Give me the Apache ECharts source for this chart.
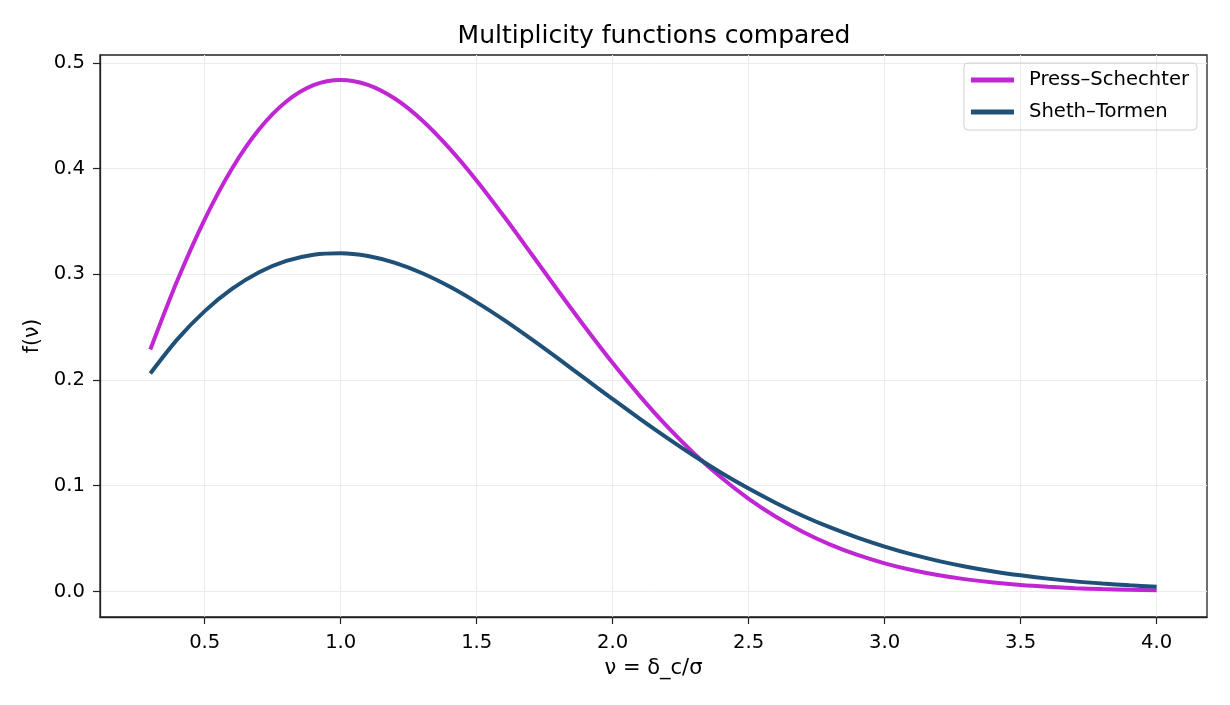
<!DOCTYPE html>
<html>
<head>
<meta charset="utf-8">
<script src="https://cdn.jsdelivr.net/npm/echarts@6/dist/echarts.min.js"></script>
<style>
  html, body { margin: 0; padding: 0; background: #fff; }
  #chart { width: 1230px; height: 705px; }
</style>
</head>
<body>
<div id="chart"></div>
<script>
// values
var nu = [0.3, 0.4, 0.5, 0.6, 0.7, 0.8, 0.9, 1.0, 1.1, 1.2, 1.3, 1.4, 1.5, 1.6, 1.7, 1.8, 1.9,
  2.0, 2.1, 2.2, 2.3, 2.4, 2.5, 2.6, 2.7, 2.8, 2.9, 3.0, 3.1, 3.2, 3.3, 3.4, 3.5, 3.6, 3.7, 3.8, 3.9, 4.0]
var pressSchechter = [0.2288, 0.2946, 0.3521, 0.3999, 0.4372, 0.4635, 0.4790, 0.4839, 0.4793, 0.4661,
  0.4456, 0.4192, 0.3886, 0.3549, 0.3197, 0.2842, 0.2494, 0.2160, 0.1848, 0.1561, 0.1303, 0.1075,
  0.0876, 0.0706, 0.0563, 0.0443, 0.0345, 0.0266, 0.0203, 0.0153, 0.0114, 0.0084, 0.0061, 0.0044,
  0.0031, 0.0022, 0.0015, 0.0011]
var shethTormen = [0.2062, 0.2387, 0.2652, 0.2862, 0.3020, 0.3127, 0.3186, 0.3200, 0.3173, 0.3108,
  0.3010, 0.2884, 0.2735, 0.2569, 0.2389, 0.2202, 0.2010, 0.1820, 0.1633, 0.1453, 0.1281, 0.1121,
  0.0973, 0.0837, 0.0714, 0.0605, 0.0509, 0.0424, 0.0350, 0.0287, 0.0234, 0.0189, 0.0152, 0.0121,
  0.0095, 0.0075, 0.0058, 0.0045]
var xTicks = [0.5, 1.0, 1.5, 2.0, 2.5, 3.0, 3.5, 4.0]
var yTicks = [0.0, 0.1, 0.2, 0.3, 0.4, 0.5]

var font = 'DejaVu Sans'

function pairs(xs, ys) {
  return xs.map(function (x, i) { return [x, ys[i]] })
}

var chart = echarts.init(document.getElementById('chart'), null, { renderer: 'canvas' })

chart.setOption({
  animation: false,
  backgroundColor: '#fff',
  textStyle: { fontFamily: font },
  title: {
    text: 'Multiplicity functions compared',
    left: 649,
    textAlign: 'center',
    top: 19,
    textStyle: { fontFamily: font, fontSize: 25, fontWeight: 'normal', color: '#000' }
  },
  legend: {
    orient: 'vertical',
    right: 33,
    top: 63,
    padding: [7, 8, 8, 7],
    itemGap: 12,
    itemWidth: 43,
    itemHeight: 5,
    borderColor: '#d0d0d0',
    borderWidth: 1,
    borderRadius: 4,
    textStyle: { fontFamily: font, fontSize: 19.6, color: '#000', padding: [0, 0, 0, 10] },
    data: [
      { name: 'Press–Schechter', icon: 'rect' },
      { name: 'Sheth–Tormen', icon: 'rect' }
    ]
  },
  grid: {
    left: 100, right: 23, top: 55, bottom: 88,
    show: true, borderColor: '#222', borderWidth: 1.3
  },
  xAxis: {
    type: 'value',
    min: 0.115,
    max: 4.185,
    name: 'ν = δ_c/σ',
    nameLocation: 'middle',
    nameGap: 38,
    nameTextStyle: { fontFamily: font, fontSize: 21, color: '#000' },
    axisLine: { show: true, onZero: false, lineStyle: { color: '#222', width: 1.3 } },
    axisTick: { show: true, customValues: xTicks, length: 7, lineStyle: { color: '#222', width: 1.2 } },
    axisLabel: {
      customValues: xTicks, fontFamily: font, fontSize: 19.6, color: '#000', margin: 16,
      formatter: function (v) { return v.toFixed(1) }
    },
    splitLine: { show: true, lineStyle: { color: '#ebebeb', width: 1 } }
  },
  yAxis: {
    type: 'value',
    min: -0.0242,
    max: 0.5075,
    name: 'f(ν)',
    nameLocation: 'middle',
    nameGap: 56,
    nameRotate: 90,
    nameTextStyle: { fontFamily: font, fontSize: 20.5, color: '#000' },
    axisLine: { show: true, onZero: false, lineStyle: { color: '#222', width: 1.3 } },
    axisTick: { show: true, customValues: yTicks, length: 7, lineStyle: { color: '#222', width: 1.2 } },
    axisLabel: {
      customValues: yTicks, fontFamily: font, fontSize: 19.6, color: '#000', margin: 15,
      formatter: function (v) { return v.toFixed(1) }
    },
    splitLine: { show: true, lineStyle: { color: '#ebebeb', width: 1 } }
  },
  series: [
    {
      name: 'Press–Schechter',
      type: 'line',
      data: pairs(nu, pressSchechter),
      smooth: 0.3,
      showSymbol: false,
      symbol: 'none',
      itemStyle: { color: '#c026d3' },
      lineStyle: { color: '#c026d3', width: 4 },
      z: 3
    },
    {
      name: 'Sheth–Tormen',
      type: 'line',
      data: pairs(nu, shethTormen),
      smooth: 0.3,
      showSymbol: false,
      symbol: 'none',
      itemStyle: { color: '#1f5078' },
      lineStyle: { color: '#1f5078', width: 4 },
      z: 4
    }
  ]
})
</script>
</body>
</html>
